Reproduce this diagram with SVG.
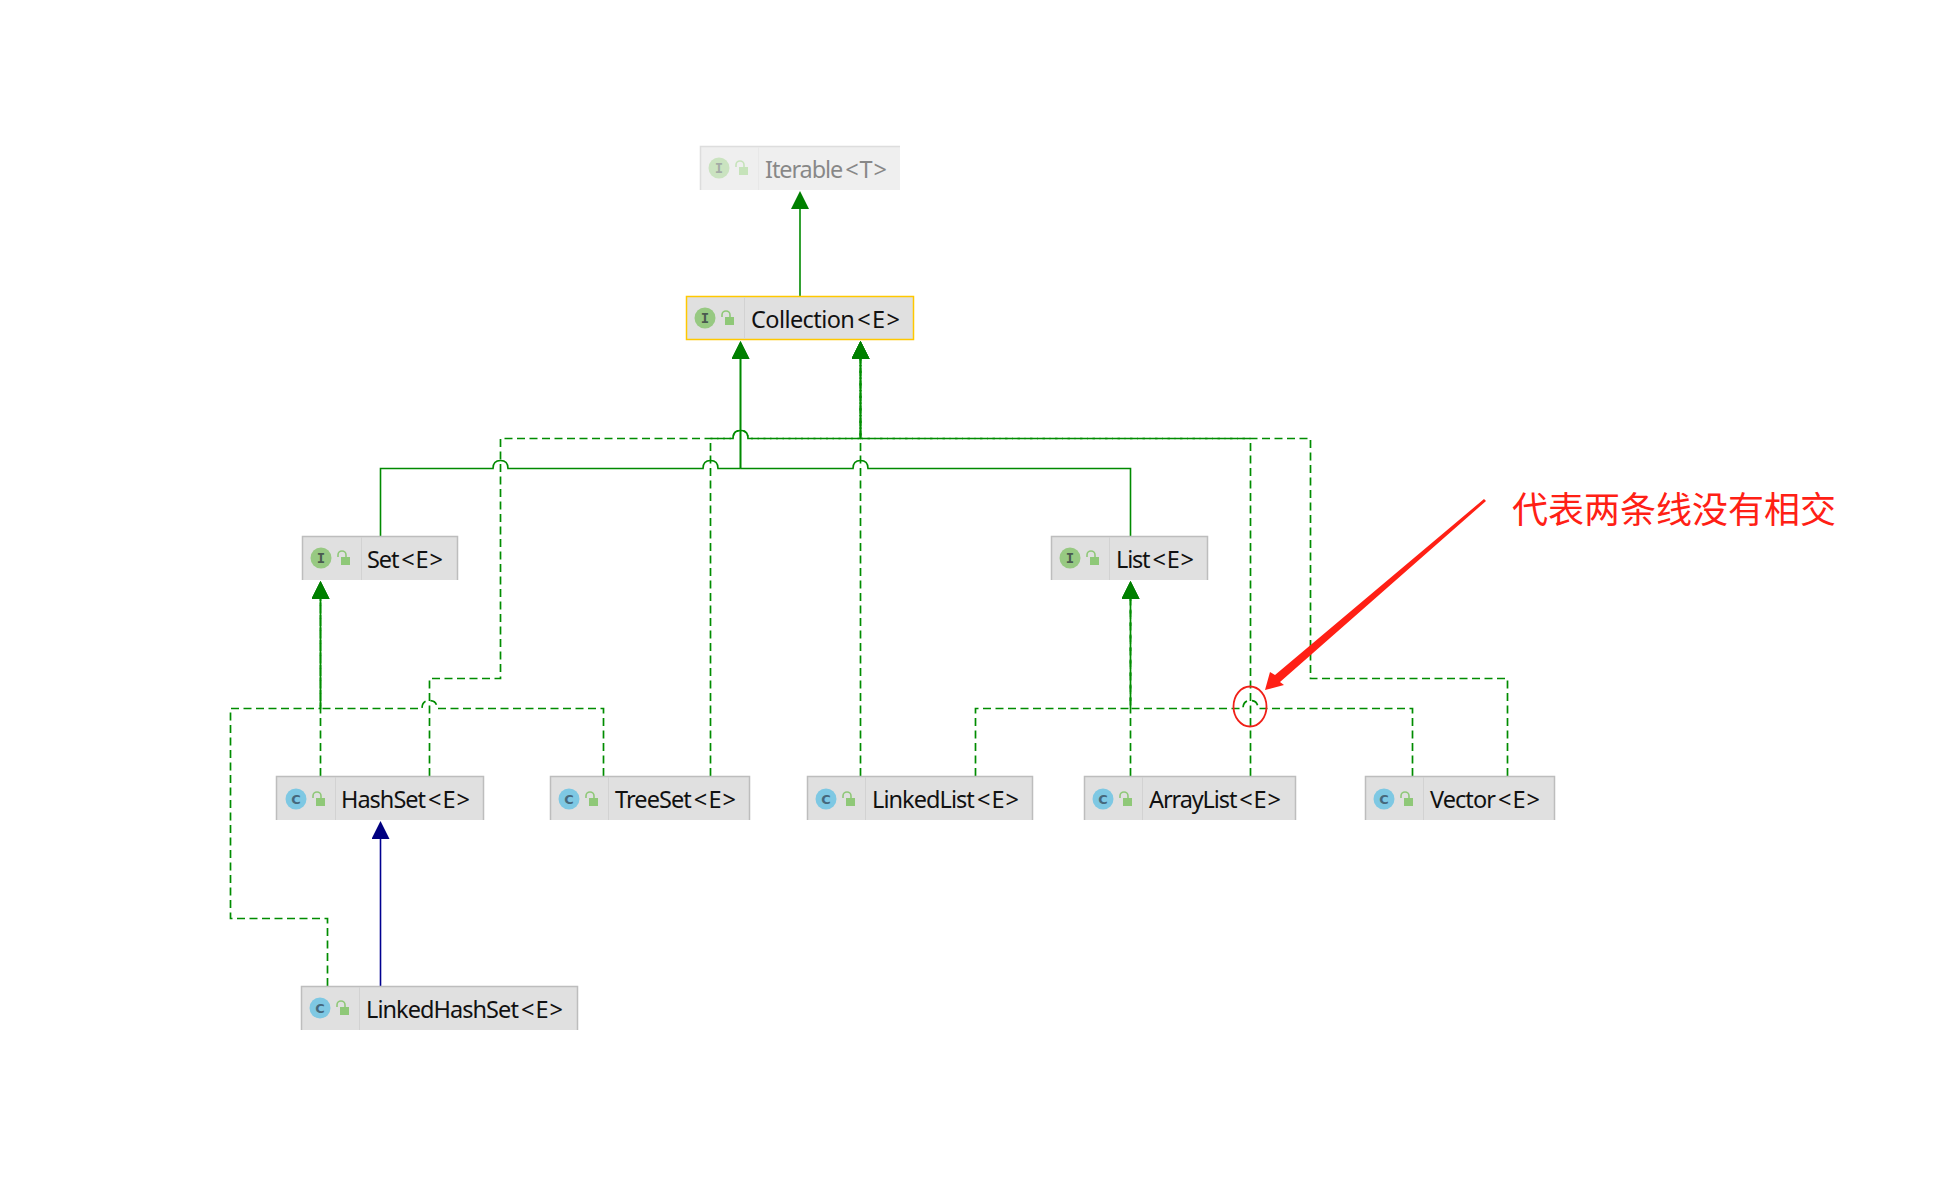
<svg xmlns="http://www.w3.org/2000/svg" width="1947" height="1203" viewBox="0 0 1947 1203">
<defs>
<style>
.box{fill:#e0e0e0;stroke:none}
.edge{fill:none;stroke:#bdbdbd;stroke-width:1.5}
.sep{stroke:#d2d2d2;stroke-width:1}
.label{font-family:"Noto Sans","Open Sans",sans-serif;font-size:23.500px;fill:#111}
.circI{fill:#97c982}
.circC{fill:#7ec8e3}
.glyph{font-family:"DejaVu Sans Mono",monospace;font-size:14px;font-weight:bold;fill:#4a5a50;text-anchor:middle}
.glyphC{font-family:"DejaVu Sans",sans-serif;font-size:13px;font-weight:bold;fill:#46687c;text-anchor:middle}
.solid{fill:none;stroke:#008a00;stroke-width:1.6}
.dash{fill:none;stroke:#008c00;stroke-width:1.7;stroke-dasharray:8 4.5}
.blue{fill:none;stroke:#000090;stroke-width:1.6}
.faded{opacity:.5}
</style>
<g id="lock">
<rect x="20" y="-1" width="9" height="8" fill="#8fc878"/>
<path d="M17 -1 V-3 A4 4 0 0 1 25 -3 V-1" fill="none" stroke="#8fc878" stroke-width="1.6"/>
</g>
<marker id="ag" markerUnits="userSpaceOnUse" markerWidth="18" markerHeight="18" refX="0" refY="9" orient="auto"><path d="M0 0L18 9L0 18z" fill="#008000"/></marker>
<marker id="ab" markerUnits="userSpaceOnUse" markerWidth="18" markerHeight="18" refX="0" refY="9" orient="auto"><path d="M0 0L18 9L0 18z" fill="#000080"/></marker>
</defs>
<rect width="1947" height="1203" fill="#fff"/>

<g id="connectors">
<path class="solid" marker-end="url(#ag)" d="M800 296V209"/>
<path class="solid" d="M380.500 536V468.500H493Q493 460.500 500.500 460.500Q508 460.500 508 468.500H703Q703 460.500 710.500 460.500Q718 460.500 718 468.500H740.500"/>
<path class="solid" marker-end="url(#ag)" d="M740.500 468.500V359"/>
<path class="solid" d="M1130.500 536V468.500H868Q868 460.500 860.500 460.500Q853 460.500 853 468.500H740.500"/>
<path class="solid" marker-end="url(#ag)" d="M740.500 468.500V359"/>
<path class="dash" marker-end="url(#ag)" d="M320.500 776V599"/>
<path class="dash" marker-end="url(#ag)" d="M603.500 776V708.500H437Q437 700.500 429.500 700.500Q422 700.500 422 708.500H320.500V599"/>
<path class="dash" marker-end="url(#ag)" d="M327.500 986V918.500H230.500V708.500H320.500V599"/>
<path class="dash" marker-end="url(#ag)" d="M429.500 776V678.500H500.500V438.500H733Q733 430.500 740.500 430.500Q748 430.500 748 438.500H860.500V359"/>
<path class="dash" marker-end="url(#ag)" d="M710.500 776V438.500H733Q733 430.500 740.500 430.500Q748 430.500 748 438.500H860.500V359"/>
<path class="dash" marker-end="url(#ag)" d="M860.500 776V359"/>
<path class="dash" marker-end="url(#ag)" d="M1250.500 776V438.500H860.500V359"/>
<path class="dash" marker-end="url(#ag)" d="M1507.500 776V678.500H1310.500V438.500H860.500V359"/>
<path class="dash" marker-end="url(#ag)" d="M1130.500 776V599"/>
<path class="dash" marker-end="url(#ag)" d="M975.500 776V708.500H1130.500V599"/>
<path class="dash" marker-end="url(#ag)" d="M1412.500 776V708.500H1258Q1258 700.500 1250.500 700.500Q1243 700.500 1243 708.500H1130.500V599"/>
<path class="blue" marker-end="url(#ab)" d="M380.500 986V839"/>
</g>

<g id="node-iterable" class="faded">
<rect class="box" x="700" y="146" width="200" height="44"/>
<path class="edge" d="M700.500 190V146.500H900"/>
<line class="sep" x1="758.500" y1="147" x2="758.500" y2="190"/>
<circle class="circI" cx="719" cy="168" r="10.500"/>
<text class="glyph" x="719" y="173">I</text>
<use href="#lock" x="719" y="168"/>
<text class="label" x="765" y="178" textLength="122" lengthAdjust="spacing">Iterable<tspan dx="3">&lt;</tspan><tspan dx="2">T</tspan><tspan dx="2">&gt;</tspan></text>
</g>

<g id="node-collection">
<rect class="box" x="686" y="296" width="228" height="44"/>
<rect x="686.500" y="296.500" width="227" height="43" fill="none" stroke="#ffc800" stroke-width="1.500"/>
<line class="sep" x1="744.500" y1="297" x2="744.500" y2="339"/>
<circle class="circI" cx="705" cy="318" r="10.500"/>
<text class="glyph" x="705" y="323">I</text>
<use href="#lock" x="705" y="318"/>
<text class="label" x="751" y="328" textLength="149" lengthAdjust="spacing">Collection<tspan dx="3">&lt;</tspan><tspan dx="2">E</tspan><tspan dx="2">&gt;</tspan></text>
</g>

<g id="node-set">
<rect class="box" x="302" y="536" width="156" height="44"/>
<path class="edge" d="M302.500 580V536.500H457.500V580"/>
<line class="sep" x1="361.500" y1="537" x2="361.500" y2="580"/>
<circle class="circI" cx="321" cy="558" r="10.500"/>
<text class="glyph" x="321" y="563">I</text>
<use href="#lock" x="321" y="558"/>
<text class="label" x="367" y="568" textLength="76" lengthAdjust="spacing">Set<tspan dx="3">&lt;</tspan><tspan dx="2">E</tspan><tspan dx="2">&gt;</tspan></text>
</g>

<g id="node-list">
<rect class="box" x="1051" y="536" width="157" height="44"/>
<path class="edge" d="M1051.500 580V536.500H1207.500V580"/>
<line class="sep" x1="1109.500" y1="537" x2="1109.500" y2="580"/>
<circle class="circI" cx="1070" cy="558" r="10.500"/>
<text class="glyph" x="1070" y="563">I</text>
<use href="#lock" x="1070" y="558"/>
<text class="label" x="1116" y="568" textLength="78" lengthAdjust="spacing">List<tspan dx="3">&lt;</tspan><tspan dx="2">E</tspan><tspan dx="2">&gt;</tspan></text>
</g>

<g id="node-hashset">
<rect class="box" x="276" y="776" width="208" height="44"/>
<path class="edge" d="M276.500 820V776.500H483.500V820"/>
<line class="sep" x1="335.500" y1="777" x2="335.500" y2="820"/>
<circle class="circC" cx="296" cy="799" r="10.500"/>
<text class="glyphC" x="296" y="804">C</text>
<use href="#lock" x="296" y="799"/>
<text class="label" x="341" y="808" textLength="129" lengthAdjust="spacing">HashSet<tspan dx="3">&lt;</tspan><tspan dx="2">E</tspan><tspan dx="2">&gt;</tspan></text>
</g>

<g id="node-treeset">
<rect class="box" x="550" y="776" width="200" height="44"/>
<path class="edge" d="M550.500 820V776.500H749.500V820"/>
<line class="sep" x1="608.500" y1="777" x2="608.500" y2="820"/>
<circle class="circC" cx="569" cy="799" r="10.500"/>
<text class="glyphC" x="569" y="804">C</text>
<use href="#lock" x="569" y="799"/>
<text class="label" x="615" y="808" textLength="121" lengthAdjust="spacing">TreeSet<tspan dx="3">&lt;</tspan><tspan dx="2">E</tspan><tspan dx="2">&gt;</tspan></text>
</g>

<g id="node-linkedlist">
<rect class="box" x="807" y="776" width="226" height="44"/>
<path class="edge" d="M807.500 820V776.500H1032.500V820"/>
<line class="sep" x1="865.500" y1="777" x2="865.500" y2="820"/>
<circle class="circC" cx="826" cy="799" r="10.500"/>
<text class="glyphC" x="826" y="804">C</text>
<use href="#lock" x="826" y="799"/>
<text class="label" x="872" y="808" textLength="147" lengthAdjust="spacing">LinkedList<tspan dx="3">&lt;</tspan><tspan dx="2">E</tspan><tspan dx="2">&gt;</tspan></text>
</g>

<g id="node-arraylist">
<rect class="box" x="1084" y="776" width="212" height="44"/>
<path class="edge" d="M1084.500 820V776.500H1295.500V820"/>
<line class="sep" x1="1142.500" y1="777" x2="1142.500" y2="820"/>
<circle class="circC" cx="1103" cy="799" r="10.500"/>
<text class="glyphC" x="1103" y="804">C</text>
<use href="#lock" x="1103" y="799"/>
<text class="label" x="1149" y="808" textLength="132" lengthAdjust="spacing">ArrayList<tspan dx="3">&lt;</tspan><tspan dx="2">E</tspan><tspan dx="2">&gt;</tspan></text>
</g>

<g id="node-vector">
<rect class="box" x="1365" y="776" width="190" height="44"/>
<path class="edge" d="M1365.500 820V776.500H1554.500V820"/>
<line class="sep" x1="1423.500" y1="777" x2="1423.500" y2="820"/>
<circle class="circC" cx="1384" cy="799" r="10.500"/>
<text class="glyphC" x="1384" y="804">C</text>
<use href="#lock" x="1384" y="799"/>
<text class="label" x="1430" y="808" textLength="110" lengthAdjust="spacing">Vector<tspan dx="3">&lt;</tspan><tspan dx="2">E</tspan><tspan dx="2">&gt;</tspan></text>
</g>

<g id="node-linkedhashset">
<rect class="box" x="301" y="986" width="277" height="44"/>
<path class="edge" d="M301.500 1030V986.500H577.500V1030"/>
<line class="sep" x1="359.500" y1="987" x2="359.500" y2="1030"/>
<circle class="circC" cx="320" cy="1008" r="10.500"/>
<text class="glyphC" x="320" y="1013">C</text>
<use href="#lock" x="320" y="1008"/>
<text class="label" x="366" y="1018" textLength="197" lengthAdjust="spacing">LinkedHashSet<tspan dx="3">&lt;</tspan><tspan dx="2">E</tspan><tspan dx="2">&gt;</tspan></text>
</g>

<g id="annotation">
<ellipse cx="1250" cy="706.500" rx="16.500" ry="20" fill="none" stroke="#f02018" stroke-width="1.800"/>
<polygon points="1484,499 1486,501 1280,682 1284,685 1265,690 1270,672 1275,675" fill="#ff2015"/>
<text x="1512" y="523" font-family="'Noto Sans CJK SC',sans-serif" font-size="36" fill="#ff2015">代表两条线没有相交</text>
</g>
</svg>
